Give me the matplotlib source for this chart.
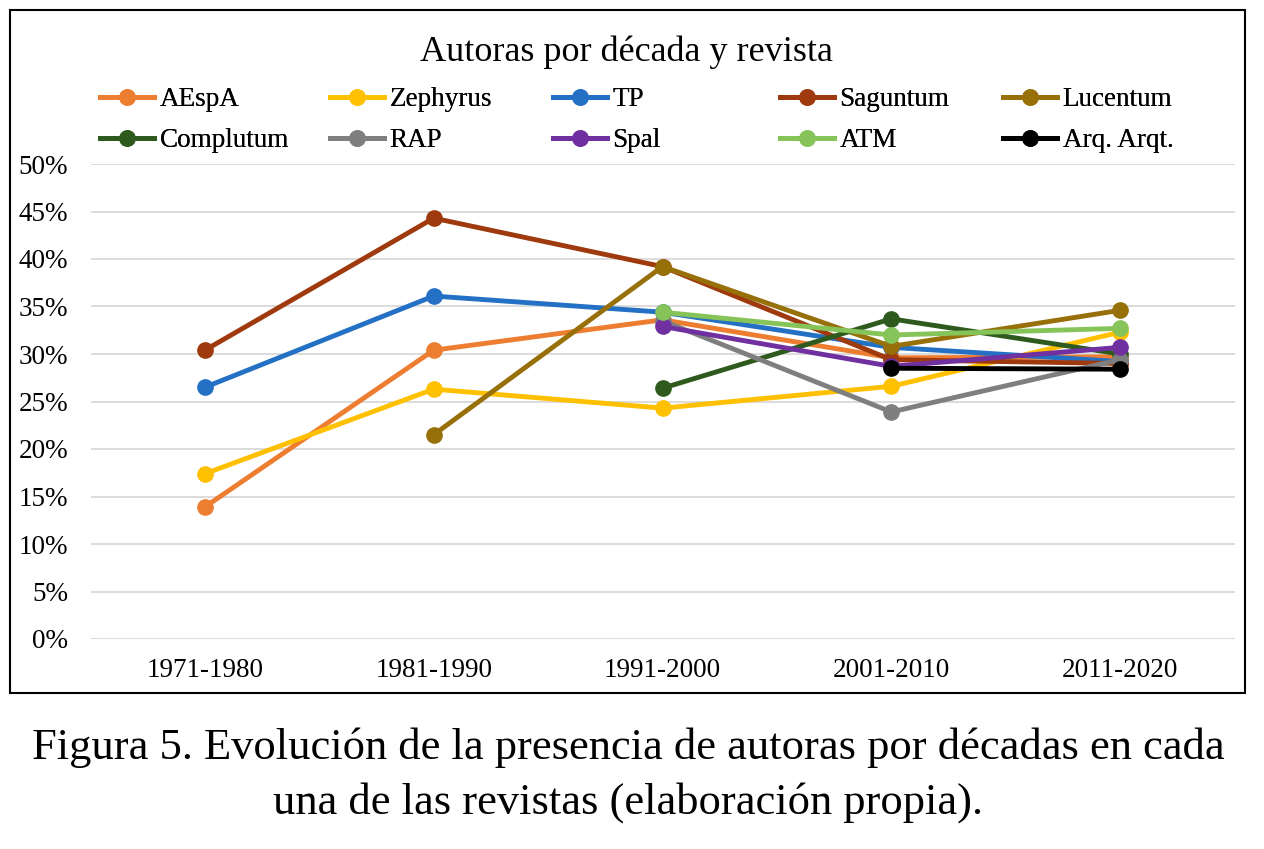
import matplotlib.pyplot as plt
from matplotlib.patches import Rectangle
from matplotlib.ticker import PercentFormatter

plt.rcParams['font.family'] = ['Liberation Serif', 'DejaVu Serif']

decades = ["1971-1980", "1981-1990", "1991-2000", "2001-2010", "2011-2020"]

aespa = [0.139, 0.304, 0.336, 0.296, 0.297]
zephyrus = [0.174, 0.263, 0.243, 0.266, 0.323]
tp = [0.265, 0.361, 0.344, 0.307, 0.292]
saguntum = [0.304, 0.443, 0.392, 0.294, 0.290]
lucentum = [None, 0.215, 0.392, 0.308, 0.346]
complutum = [None, None, 0.264, 0.337, 0.300]
rap = [None, None, 0.335, 0.239, 0.294]
spal = [None, None, 0.329, 0.287, 0.307]
atm = [None, None, 0.344, 0.320, 0.327]
arq = [None, None, None, 0.285, 0.284]

names = ["AEspA", "Zephyrus", "TP", "Saguntum", "Lucentum",
         "Complutum", "RAP", "Spal", "ATM", "Arq. Arqt."]
series = [aespa, zephyrus, tp, saguntum, lucentum,
          complutum, rap, spal, atm, arq]
colors = ["#ED7D31", "#FFC000", "#2470C4", "#9E3A0E", "#97700A",
          "#2F5A1E", "#7F7F7F", "#7030A0", "#86C45A", "#000000"]

fig = plt.figure(figsize=(12.64, 8.49), dpi=100)
ax = fig.add_axes([90.5 / 1264, 1 - 639 / 849, 1144 / 1264, 475 / 849])

handles = []
for vals, name, c in zip(series, names, colors):
    xs = [i for i, v in enumerate(vals) if v is not None]
    ys = [v for v in vals if v is not None]
    h, = ax.plot(xs, ys, color=c, lw=3.5, marker="o", ms=11, label=name)
    handles.append(h)

ax.set_xlim(-0.5, 4.5)
ax.set_ylim(0, 0.5)
ax.set_yticks([i * 0.05 for i in range(11)])
ax.yaxis.set_major_formatter(PercentFormatter(1.0, decimals=0))
ax.set_xticks(range(5))
ax.set_xticklabels(decades)
ax.grid(axis="y", color="#D9D9D9", lw=1.3)
ax.set_axisbelow(True)
for s in ax.spines.values():
    s.set_visible(False)
ax.tick_params(axis="y", length=0, pad=16, labelsize=19.5)
ax.tick_params(axis="x", length=0, pad=14, labelsize=19.5)

fig.text(626 / 1264, 1 - 52 / 849, "Autoras por década y revista",
         ha="center", va="center", fontsize=26)

# legend: five columns of two entries each
col_x = [100, 330, 553, 780, 1003]
for k, x in enumerate(col_x):
    hs = [handles[k], handles[k + 5]]
    lg = fig.legend(hs, [h.get_label() for h in hs], loc="upper left",
                    bbox_to_anchor=(x / 1264, 1 - 87 / 849),
                    frameon=False, fontsize=19.5, handlelength=2.0,
                    handletextpad=0.2, labelspacing=0.6, borderpad=0,
                    borderaxespad=0)
    fig.add_artist(lg)

fig.add_artist(Rectangle((10 / 1264, 1 - 693 / 849), 1235 / 1264, 683 / 849,
                         transform=fig.transFigure, fill=False,
                         edgecolor="black", lw=1.5))

fig.text(628 / 1264, 1 - 748 / 849,
         "Figura 5. Evolución de la presencia de autoras por décadas en cada",
         ha="center", va="center", fontsize=32)
fig.text(628 / 1264, 1 - 803 / 849,
         "una de las revistas (elaboración propia).",
         ha="center", va="center", fontsize=32)

fig.savefig("out.png", dpi=100)
